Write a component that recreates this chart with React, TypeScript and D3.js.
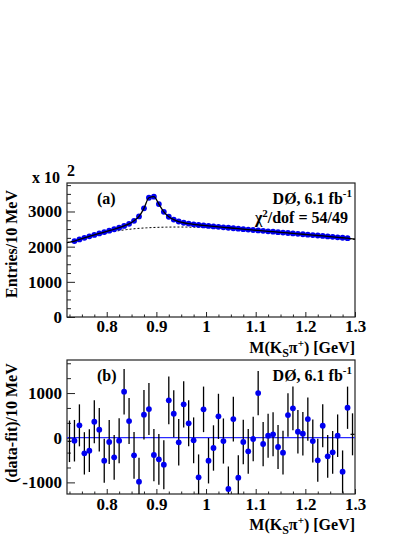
import * as d3 from "d3";
import { useEffect, useRef } from "react";

// bin centres, 10 MeV bins (GeV)
const massBins = [
  0.735, 0.745, 0.755, 0.765, 0.775, 0.785, 0.795, 0.805, 0.815, 0.825,
  0.835, 0.845, 0.855, 0.865, 0.875, 0.885, 0.895, 0.905, 0.915, 0.925,
  0.935, 0.945, 0.955, 0.965, 0.975, 0.985, 0.995, 1.005, 1.015, 1.025,
  1.035, 1.045, 1.055, 1.065, 1.075, 1.085, 1.095, 1.105, 1.115, 1.125,
  1.135, 1.145, 1.155, 1.165, 1.175, 1.185, 1.195, 1.205, 1.215, 1.225,
  1.235, 1.245, 1.255, 1.265, 1.275, 1.285,
];

// panel (a): entries per bin (axis units)
const entries = [
  2160, 2205, 2250, 2295, 2335, 2375, 2415, 2455, 2495, 2540,
  2590, 2650, 2735, 2860, 3090, 3390, 3420, 3210, 2990, 2850,
  2770, 2715, 2680, 2655, 2635, 2618, 2604, 2590, 2576, 2563,
  2550, 2537, 2524, 2511, 2498, 2485, 2473, 2461, 2449, 2437,
  2425, 2413, 2401, 2389, 2377, 2365, 2353, 2341, 2329, 2317,
  2305, 2292, 2279, 2266, 2253, 2240,
];

// fit end points outside the first/last bin centre
const fitEndMass = [0.72, 1.3];
const fitEndValues = [2115, 2212];

// background only (dotted)
const bkgMass = [0.72, 0.74, 0.76, 0.78, 0.8, 0.82, 0.84, 0.86, 0.88, 0.9, 0.92, 0.94, 0.96, 0.98, 1.0, 1.05, 1.1, 1.15, 1.2, 1.25, 1.3];
const bkgValues = [2115, 2180, 2262, 2330, 2395, 2445, 2485, 2515, 2535, 2548, 2555, 2558, 2557, 2553, 2547, 2513, 2455, 2398, 2338, 2278, 2208];

// panel (b): residuals data-fit
const residuals = [
  -67, 277, -350, -290, 358, 180, -515, -96, -440, -67,
  1030, 373, -395, -985, 515, 642, -387, -484, -604, 837,
  537, -103, 747, 322, -58, -886, 635, -515, -230, 478,
  -74, -1148, 418, -895, -96, -305, -29, 1000, -141, 45,
  76, -208, -335, 508, 657, 134, 89, 418, -74, -506,
  268, -416, -327, 45, -760, 671,
];
const residualErrors = [
  465, 470, 474, 479, 483, 487, 491, 495, 499, 504,
  509, 515, 523, 535, 556, 582, 585, 567, 547, 534,
  526, 521, 518, 515, 513, 512, 510, 509, 508, 506,
  505, 504, 502, 501, 500, 499, 497, 496, 495, 494,
  492, 491, 490, 489, 488, 486, 485, 484, 483, 481,
  480, 479, 477, 476, 475, 473,
];
// edge bins drawn without marker
const edgeMass = [0.725, 1.295];
const edgeResiduals = [-80, 76];
const edgeErrors = [465, 470];

const xMajor = [0.8, 0.9, 1.0, 1.1, 1.2, 1.3];
const xTickLabels = ["0.8", "0.9", "1", "1.1", "1.2", "1.3"];
const yTopMajor = [0, 1000, 2000, 3000];
const yTopLabels = ["0", "1000", "2000", "3000"];
const yBotMajor = [-1000, 0, 1000];
const yBotLabels = ["-1000", "0", "1000"];

const FONT = "'Liberation Serif', 'Times New Roman', serif";
const BLUE = "#0000f0";

export default function App() {
  const svgRef = useRef<SVGSVGElement>(null);

  useEffect(() => {
    const svg = d3.select(svgRef.current);
    svg.selectAll("*").remove();

    const left = 67, right = 355;
    const x = d3.scaleLinear().domain([0.72, 1.3]).range([left, right]);
    const yTop = d3.scaleLinear().domain([0, 3810]).range([317, 183]);
    const yBot = d3.scaleLinear().domain([-1260, 1740]).range([494, 360]);

    const xMinor = d3.range(0.725, 1.3001, 0.025).filter((v) => !xMajor.some((m) => Math.abs(m - v) < 1e-6));

    //axes for one panel
    function drawAxes(y, yMajor, yLabels, yMinorStep, labelPad) {
      const [y1, y0] = y.range();
      const [d0, d1] = y.domain();
      const yMinor = d3.range(Math.ceil(d0 / yMinorStep) * yMinorStep, d1, yMinorStep)
        .filter((v) => !yMajor.some((m) => Math.abs(m - v) < 1e-6));

      const gx = svg.append("g").attr("transform", `translate(0,${y1})`);
      gx.call(d3.axisBottom(x).tickValues(xMinor).tickSize(-2.5).tickFormat(() => ""));
      const gx2 = svg.append("g").attr("transform", `translate(0,${y1})`);
      gx2.call(d3.axisBottom(x).tickValues(xMajor).tickSize(-5).tickPadding(labelPad).tickFormat((d, i) => xTickLabels[i]));

      const gy = svg.append("g").attr("transform", `translate(${left},0)`);
      gy.call(d3.axisLeft(y).tickValues(yMinor).tickSize(-4).tickFormat(() => ""));
      const gy2 = svg.append("g").attr("transform", `translate(${left},0)`);
      gy2.call(d3.axisLeft(y).tickValues(yMajor).tickSize(-8).tickPadding(5).tickFormat((d, i) => yLabels[i]));

      svg.selectAll(".domain").remove();
      svg.selectAll(".tick line").attr("stroke", "#222").attr("stroke-width", 1);
      svg.selectAll(".tick text")
        .attr("font-family", FONT)
        .attr("font-weight", "bold")
        .attr("font-size", 17)
        .attr("fill", "#000");

      svg.append("rect")
        .attr("x", left).attr("y", y0)
        .attr("width", right - left).attr("height", y1 - y0)
        .attr("fill", "none").attr("stroke", "#222").attr("stroke-width", 1.2);
    }

    function addText(tx, ty, parts, anchor = "start", rotate = false) {
      const t = svg.append("text")
        .attr("font-family", FONT).attr("font-weight", "bold").attr("font-size", 16)
        .attr("text-anchor", anchor);
      if (rotate) t.attr("transform", `translate(${tx},${ty}) rotate(-90)`);
      else t.attr("x", tx).attr("y", ty);
      parts.forEach((p) => {
        const s = t.append("tspan").text(p.t);
        if (p.dy) s.attr("dy", p.dy);
        if (p.size) s.attr("font-size", p.size);
      });
    }

    function massTitle(ty) {
      addText(355, ty, [
        { t: "M(K" },
        { t: "S", dy: 4, size: 12 },
        { t: "\u03c0", dy: -4 },
        { t: "+", dy: -6, size: 11 },
        { t: ") [GeV]", dy: 6 },
      ], "end");
    }

    // ---- panel (a)
    drawAxes(yTop, yTopMajor, yTopLabels, 250, 3);

    svg.append("path")
      .datum(bkgMass.map((m, i) => [m, bkgValues[i]]))
      .attr("fill", "none").attr("stroke", "#000").attr("stroke-width", 1)
      .attr("stroke-dasharray", "2,2")
      .attr("d", d3.line().x((d) => x(d[0])).y((d) => yTop(d[1])).curve(d3.curveMonotoneX));

    svg.append("g").selectAll("circle")
      .data(massBins.map((m, i) => [m, entries[i]]))
      .enter().append("circle")
      .attr("cx", (d) => x(d[0])).attr("cy", (d) => yTop(d[1]))
      .attr("r", 2.9).attr("fill", BLUE);

    const fitPts = [[fitEndMass[0], fitEndValues[0]], ...massBins.map((m, i) => [m, entries[i]]), [fitEndMass[1], fitEndValues[1]]];
    svg.append("path")
      .datum(fitPts)
      .attr("fill", "none").attr("stroke", "#000").attr("stroke-width", 1.3)
      .attr("d", d3.line().x((d) => x(d[0])).y((d) => yTop(d[1])).curve(d3.curveMonotoneX));

    addText(97, 204, [{ t: "(a)" }]);
    addText(352, 204, [{ t: "D\u00d8, 6.1 fb" }, { t: "-1", dy: -7, size: 11 }], "end");
    addText(348, 223, [{ t: "\u03c7" }, { t: "2", dy: -6, size: 11 }, { t: "/dof = 54/49", dy: 6 }], "end");
    addText(32, 183, [{ t: "x 10" }]);
    addText(67, 176, [{ t: "2" }]);
    addText(17, 244, [{ t: "Entries/10 MeV" }], "middle", true);
    massTitle(353);

    // ---- panel (b)
    drawAxes(yBot, yBotMajor, yBotLabels, 1000 / 3, 4);

    svg.append("clipPath").attr("id", "clipB")
      .append("rect").attr("x", left).attr("y", 360).attr("width", right - left).attr("height", 134);
    const gb = svg.append("g").attr("clip-path", "url(#clipB)");

    gb.append("line")
      .attr("x1", left).attr("x2", right)
      .attr("y1", yBot(0)).attr("y2", yBot(0))
      .attr("stroke", "#2a2aff").attr("stroke-width", 1.3);

    const resPts = massBins.map((m, i) => ({ m, v: residuals[i], e: residualErrors[i] }));
    const edgePts = edgeMass.map((m, i) => ({ m, v: edgeResiduals[i], e: edgeErrors[i] }));

    gb.selectAll(".err")
      .data([...resPts, ...edgePts])
      .enter().append("line")
      .attr("x1", (d) => x(d.m)).attr("x2", (d) => x(d.m))
      .attr("y1", (d) => yBot(d.v - d.e)).attr("y2", (d) => yBot(d.v + d.e))
      .attr("stroke", "#000").attr("stroke-width", 1.3);

    gb.selectAll(".edge")
      .data(edgePts)
      .enter().append("line")
      .attr("x1", (d) => x(d.m) - 2).attr("x2", (d) => x(d.m) + 2)
      .attr("y1", (d) => yBot(d.v)).attr("y2", (d) => yBot(d.v))
      .attr("stroke", "#000").attr("stroke-width", 1.2);

    gb.selectAll("circle")
      .data(resPts)
      .enter().append("circle")
      .attr("cx", (d) => x(d.m)).attr("cy", (d) => yBot(d.v))
      .attr("r", 2.9).attr("fill", BLUE);

    addText(97, 381, [{ t: "(b)" }]);
    addText(352, 381, [{ t: "D\u00d8, 6.1 fb" }, { t: "-1", dy: -7, size: 11 }], "end");
    addText(17, 423, [{ t: "(data-fit)/10 MeV" }], "middle", true);
    massTitle(530);
  }, []);

  return (
    <svg
      ref={svgRef}
      width={415}
      height={537}
      style={{ position: "absolute", left: 0, top: 0, background: "#fff" }}
    ></svg>
  );
}
